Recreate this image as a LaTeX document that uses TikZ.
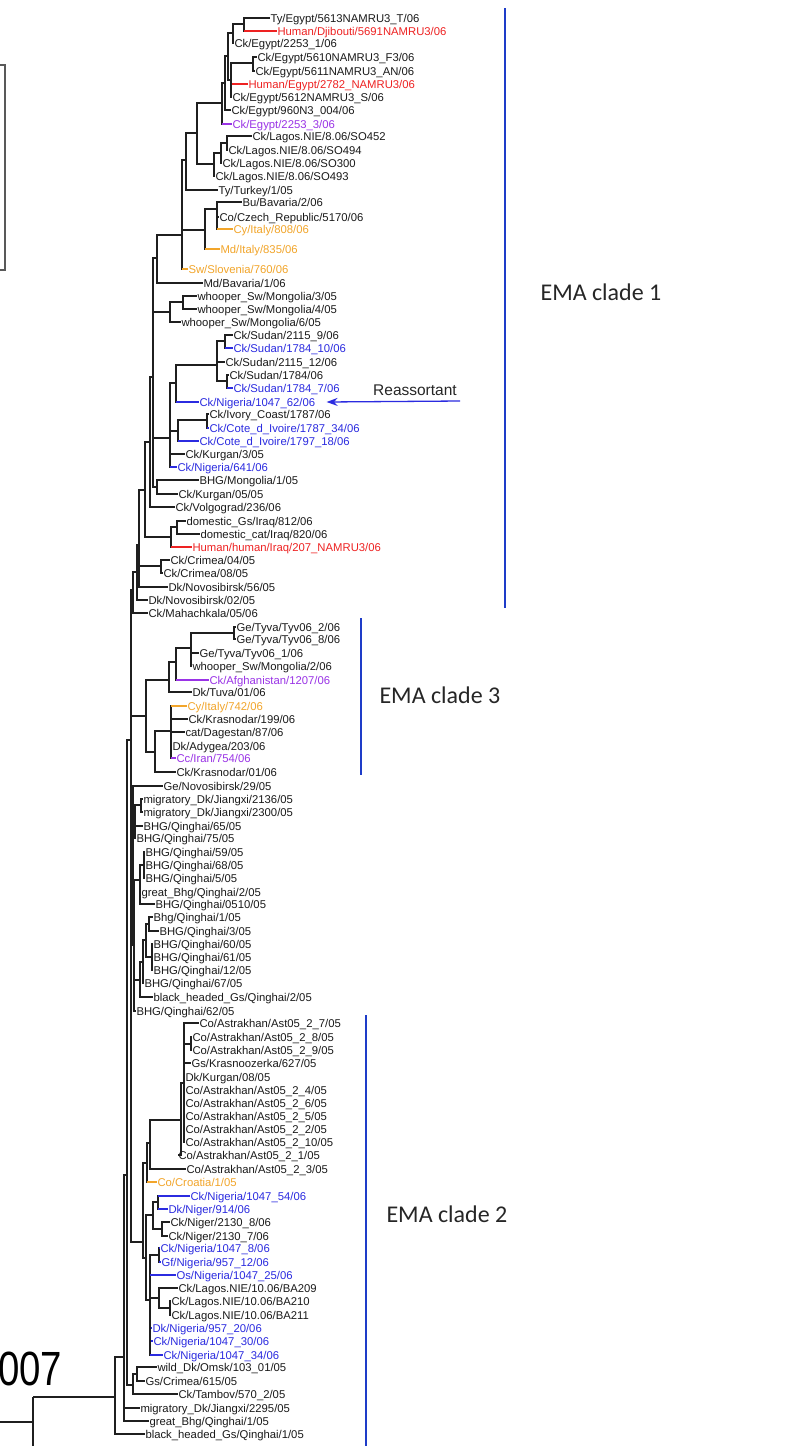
\documentclass[tikz,border=0pt]{standalone}
\usepackage{fontspec}
\setmainfont{Liberation Sans}
\newfontfamily\cladefont{Carlito}
\usetikzlibrary{arrows.meta}
\definecolor{tc}{HTML}{1A1A1A}
\definecolor{cr}{HTML}{EE2222}
\definecolor{cb}{HTML}{2B2BE0}
\definecolor{co}{HTML}{F2A52A}
\definecolor{cp}{HTML}{9A33E6}
\definecolor{cbar}{HTML}{1E3CC8}
\tikzset{
  tree/.style={line width=1.1pt, draw=black!88},
  lf/.style={anchor=west, inner sep=0.3pt, font=\fontsize{11.3}{12}\selectfont, text height=9pt, text depth=1pt},
  cladebar/.style={line width=1.3pt, draw=cbar},
  cladelab/.style={anchor=base west, font=\cladefont\fontsize{24}{26}\selectfont, text=black!85},
}
\newcommand\lv[5]{\node[lf,text=#4] (L#1) at (#2,#3) {#5};}
\newcommand\eL[3][]{\draw[tree] (#2) |- (L#3.west);%
  \ifx\relax#1\relax\else\draw[tree,draw=#1] (#2 |- L#3.west) -- (L#3.west);\fi}
\newcommand\eI[2]{\draw[tree] (#1) |- (#2);}
\begin{document}
\begin{tikzpicture}[x=1pt,y=-1pt]
\useasboundingbox (0,0) rectangle (787,1446);
\clip (0,0) rectangle (787,1446);
\fill[white] (0,0) rectangle (787,1446);
% leaves
\lv{1}{270}{18}{tc}{Ty/Egypt/5613NAMRU3\_T/06}
\lv{2}{277}{31}{cr}{Human/Djibouti/5691NAMRU3/06}
\lv{3}{234}{43}{tc}{Ck/Egypt/2253\_1/06}
\lv{4}{257}{57}{tc}{Ck/Egypt/5610NAMRU3\_F3/06}
\lv{5}{255}{71}{tc}{Ck/Egypt/5611NAMRU3\_AN/06}
\lv{6}{248}{84}{cr}{Human/Egypt/2782\_NAMRU3/06}
\lv{7}{232}{97}{tc}{Ck/Egypt/5612NAMRU3\_S/06}
\lv{8}{231}{110}{tc}{Ck/Egypt/960N3\_004/06}
\lv{9}{232}{124}{cp}{Ck/Egypt/2253\_3/06}
\lv{10}{252}{136}{tc}{Ck/Lagos.NIE/8.06/SO452}
\lv{11}{228}{150}{tc}{Ck/Lagos.NIE/8.06/SO494}
\lv{12}{222}{163}{tc}{Ck/Lagos.NIE/8.06/SO300}
\lv{13}{215}{176}{tc}{Ck/Lagos.NIE/8.06/SO493}
\lv{14}{218}{190}{tc}{Ty/Turkey/1/05}
\lv{15}{242}{202}{tc}{Bu/Bavaria/2/06}
\lv{16}{219}{217}{tc}{Co/Czech\_Republic/5170/06}
\lv{17}{233}{229}{co}{Cy/Italy/808/06}
\lv{18}{220}{249}{co}{Md/Italy/835/06}
\lv{19}{188}{269}{co}{Sw/Slovenia/760/06}
\lv{20}{203}{283}{tc}{Md/Bavaria/1/06}
\lv{21}{197}{296}{tc}{whooper\_Sw/Mongolia/3/05}
\lv{22}{197}{309}{tc}{whooper\_Sw/Mongolia/4/05}
\lv{23}{181}{322}{tc}{whooper\_Sw/Mongolia/6/05}
\lv{24}{233}{335}{tc}{Ck/Sudan/2115\_9/06}
\lv{25}{233}{348}{cb}{Ck/Sudan/1784\_10/06}
\lv{26}{225}{362}{tc}{Ck/Sudan/2115\_12/06}
\lv{27}{229}{375}{tc}{Ck/Sudan/1784/06}
\lv{28}{233}{388}{cb}{Ck/Sudan/1784\_7/06}
\lv{29}{199}{402}{cb}{Ck/Nigeria/1047\_62/06}
\lv{30}{209}{414}{tc}{Ck/Ivory\_Coast/1787/06}
\lv{31}{209}{428}{cb}{Ck/Cote\_d\_Ivoire/1787\_34/06}
\lv{32}{199}{441}{cb}{Ck/Cote\_d\_Ivoire/1797\_18/06}
\lv{33}{185}{454}{tc}{Ck/Kurgan/3/05}
\lv{34}{177}{467}{cb}{Ck/Nigeria/641/06}
\lv{35}{199}{480}{tc}{BHG/Mongolia/1/05}
\lv{36}{178}{494}{tc}{Ck/Kurgan/05/05}
\lv{37}{175}{507}{tc}{Ck/Volgograd/236/06}
\lv{38}{186}{521}{tc}{domestic\_Gs/Iraq/812/06}
\lv{39}{200}{534}{tc}{domestic\_cat/Iraq/820/06}
\lv{40}{192}{547}{cr}{Human/human/Iraq/207\_NAMRU3/06}
\lv{41}{170}{560}{tc}{Ck/Crimea/04/05}
\lv{42}{163}{573}{tc}{Ck/Crimea/08/05}
\lv{43}{168}{587}{tc}{Dk/Novosibirsk/56/05}
\lv{44}{148}{600}{tc}{Dk/Novosibirsk/02/05}
\lv{45}{148}{613}{tc}{Ck/Mahachkala/05/06}
\lv{46}{236}{627}{tc}{Ge/Tyva/Tyv06\_2/06}
\lv{47}{236}{639}{tc}{Ge/Tyva/Tyv06\_8/06}
\lv{48}{199}{653}{tc}{Ge/Tyva/Tyv06\_1/06}
\lv{49}{192}{666}{tc}{whooper\_Sw/Mongolia/2/06}
\lv{50}{209}{680}{cp}{Ck/Afghanistan/1207/06}
\lv{51}{192}{692}{tc}{Dk/Tuva/01/06}
\lv{52}{187}{706}{co}{Cy/Italy/742/06}
\lv{53}{188}{719}{tc}{Ck/Krasnodar/199/06}
\lv{54}{185}{732}{tc}{cat/Dagestan/87/06}
\lv{55}{172}{746}{tc}{Dk/Adygea/203/06}
\lv{56}{176}{758}{cp}{Cc/Iran/754/06}
\lv{57}{176}{772}{tc}{Ck/Krasnodar/01/06}
\lv{58}{163}{786}{tc}{Ge/Novosibirsk/29/05}
\lv{59}{143}{799}{tc}{migratory\_Dk/Jiangxi/2136/05}
\lv{60}{143}{812}{tc}{migratory\_Dk/Jiangxi/2300/05}
\lv{61}{143}{826}{tc}{BHG/Qinghai/65/05}
\lv{62}{136}{838}{tc}{BHG/Qinghai/75/05}
\lv{63}{145}{852}{tc}{BHG/Qinghai/59/05}
\lv{64}{145}{865}{tc}{BHG/Qinghai/68/05}
\lv{65}{145}{878}{tc}{BHG/Qinghai/5/05}
\lv{66}{141}{892}{tc}{great\_Bhg/Qinghai/2/05}
\lv{67}{155}{904}{tc}{BHG/Qinghai/0510/05}
\lv{68}{153}{917}{tc}{Bhg/Qinghai/1/05}
\lv{69}{159}{931}{tc}{BHG/Qinghai/3/05}
\lv{70}{153}{944}{tc}{BHG/Qinghai/60/05}
\lv{71}{153}{957}{tc}{BHG/Qinghai/61/05}
\lv{72}{153}{970}{tc}{BHG/Qinghai/12/05}
\lv{73}{144}{983}{tc}{BHG/Qinghai/67/05}
\lv{74}{153}{997}{tc}{black\_headed\_Gs/Qinghai/2/05}
\lv{75}{136}{1011}{tc}{BHG/Qinghai/62/05}
\lv{76}{199}{1023}{tc}{Co/Astrakhan/Ast05\_2\_7/05}
\lv{77}{192}{1037}{tc}{Co/Astrakhan/Ast05\_2\_8/05}
\lv{78}{192}{1050}{tc}{Co/Astrakhan/Ast05\_2\_9/05}
\lv{79}{191}{1063}{tc}{Gs/Krasnoozerka/627/05}
\lv{80}{185}{1077}{tc}{Dk/Kurgan/08/05}
\lv{81}{185}{1090}{tc}{Co/Astrakhan/Ast05\_2\_4/05}
\lv{82}{185}{1103}{tc}{Co/Astrakhan/Ast05\_2\_6/05}
\lv{83}{185}{1116}{tc}{Co/Astrakhan/Ast05\_2\_5/05}
\lv{84}{185}{1129}{tc}{Co/Astrakhan/Ast05\_2\_2/05}
\lv{85}{185}{1142}{tc}{Co/Astrakhan/Ast05\_2\_10/05}
\lv{86}{178}{1155}{tc}{Co/Astrakhan/Ast05\_2\_1/05}
\lv{87}{186}{1169}{tc}{Co/Astrakhan/Ast05\_2\_3/05}
\lv{88}{157}{1182}{co}{Co/Croatia/1/05}
\lv{89}{190}{1196}{cb}{Ck/Nigeria/1047\_54/06}
\lv{90}{168}{1209}{cb}{Dk/Niger/914/06}
\lv{91}{170}{1222}{tc}{Ck/Niger/2130\_8/06}
\lv{92}{168}{1236}{tc}{Ck/Niger/2130\_7/06}
\lv{93}{160}{1248}{cb}{Ck/Nigeria/1047\_8/06}
\lv{94}{161}{1262}{cb}{Gf/Nigeria/957\_12/06}
\lv{95}{176}{1275}{cb}{Os/Nigeria/1047\_25/06}
\lv{96}{178}{1288}{tc}{Ck/Lagos.NIE/10.06/BA209}
\lv{97}{171}{1301}{tc}{Ck/Lagos.NIE/10.06/BA210}
\lv{98}{171}{1315}{tc}{Ck/Lagos.NIE/10.06/BA211}
\lv{99}{152}{1328}{cb}{Dk/Nigeria/957\_20/06}
\lv{100}{153}{1341}{cb}{Ck/Nigeria/1047\_30/06}
\lv{101}{163}{1355}{cb}{Ck/Nigeria/1047\_34/06}
\lv{102}{157}{1367}{tc}{wild\_Dk/Omsk/103\_01/05}
\lv{103}{145}{1381}{tc}{Gs/Crimea/615/05}
\lv{104}{178}{1394}{tc}{Ck/Tambov/570\_2/05}
\lv{105}{140}{1408}{tc}{migratory\_Dk/Jiangxi/2295/05}
\lv{106}{149}{1421}{tc}{great\_Bhg/Qinghai/1/05}
\lv{107}{145}{1434}{tc}{black\_headed\_Gs/Qinghai/1/05}
% internal nodes
\coordinate (na) at (244,24);
\coordinate (nb) at (233,33);
\coordinate (nc) at (253,63);
\coordinate (nd) at (231,80);
\coordinate (ne) at (228,56);
\coordinate (nf) at (225,83);
\coordinate (ng) at (222,103);
\coordinate (nh) at (227,143);
\coordinate (ni) at (221,153);
\coordinate (nj) at (214,164);
\coordinate (nk) at (197,133);
\coordinate (nl) at (186,160);
\coordinate (nn) at (217,209);
\coordinate (no) at (205,230);
\coordinate (nm) at (182,235);
\coordinate (np) at (157,258);
\coordinate (nq) at (183,302);
\coordinate (nr) at (170,312);
\coordinate (ns1) at (225,341);
\coordinate (ns2) at (227,381);
\coordinate (ns) at (217,365);
\coordinate (nt) at (176,383);
\coordinate (nu1) at (207,420);
\coordinate (nu) at (178,431);
\coordinate (nv) at (170,438);
\coordinate (nx) at (157,487);
\coordinate (nB) at (153,377);
\coordinate (nC) at (150,442);
\coordinate (nD1) at (177,527);
\coordinate (nD) at (171,537);
\coordinate (nE) at (145,490);
\coordinate (nF1) at (161,566);
\coordinate (nI) at (139,545);
\coordinate (nI2) at (137,572);
\coordinate (nJ) at (133,590);
\coordinate (nK1) at (234,633);
\coordinate (nK) at (191,648);
\coordinate (nL) at (176,662);
\coordinate (nM) at (169,680);
\coordinate (nN) at (171,731);
\coordinate (nO) at (155,752);
\coordinate (nP) at (146,716);
\coordinate (q1) at (141,805);
\coordinate (q2) at (135,815);
\coordinate (q3) at (144,865);
\coordinate (q4) at (140,880);
\coordinate (q5) at (149,924);
\coordinate (q6) at (152,957);
\coordinate (q7) at (146,940);
\coordinate (q8) at (143,962);
\coordinate (q9) at (140,980);
\coordinate (q10) at (134,945);
\coordinate (q12) at (133,840);
\coordinate (a1) at (191,1044);
\coordinate (A) at (184,1083);
\coordinate (nA2) at (181,1120);
\coordinate (nA3) at (150,1143);
\coordinate (nA4) at (147,1163);
\coordinate (nN1) at (158,1202);
\coordinate (nN2) at (162,1229);
\coordinate (nN3) at (153,1215);
\coordinate (nN4) at (159,1255);
\coordinate (nN5) at (170,1308);
\coordinate (nN6) at (159,1298);
\coordinate (nN7) at (150,1300);
\coordinate (nN8) at (146,1258);
\coordinate (nC2) at (143,1242);
\coordinate (P1) at (131,740);
\coordinate (nT1) at (137,1374);
\coordinate (nT) at (133,1385);
\coordinate (P2) at (127,1175);
\coordinate (P3) at (124,1357);
\coordinate (R0) at (115,1397);
\coordinate (Rt) at (33,1397);
\coordinate (Rb) at (33,1450);
\coordinate (Rl) at (-5,1422);
% edges
\eL{na}{1} \eL[cr]{na}{2}
\eI{nb}{na} \eL{nb}{3}
\eL{nc}{4} \eL{nc}{5}
\eI{nd}{nc} \eL[cr]{nd}{6} \eL{nd}{7}
\eI{ne}{nb} \eI{ne}{nd}
\eI{nf}{ne} \eL{nf}{8}
\eI{ng}{nf} \eL[cp]{ng}{9}
\eL{nh}{10} \eL{nh}{11}
\eI{ni}{nh} \eL{ni}{12}
\eI{nj}{ni} \eL{nj}{13}
\eI{nk}{ng} \eI{nk}{nj}
\eI{nl}{nk} \eL{nl}{14}
\eL{nn}{15} \eL{nn}{16} \eL[co]{nn}{17}
\eI{no}{nn} \eL[co]{no}{18}
\eI{nm}{nl} \eI{nm}{no} \eL[co]{nm}{19}
\eI{np}{nm} \eL{np}{20}
\eL{nq}{21} \eL{nq}{22}
\eI{nr}{nq} \eL{nr}{23}
\eL{ns1}{24} \eL[cb]{ns1}{25}
\eL{ns2}{27} \eL[cb]{ns2}{28}
\eI{ns}{ns1} \eL{ns}{26} \eI{ns}{ns2}
\eI{nt}{ns} \eL[cb]{nt}{29}
\eL{nu1}{30} \eL[cb]{nu1}{31}
\eI{nu}{nu1} \eL[cb]{nu}{32}
\eI{nv}{nt} \eI{nv}{nu} \eL{nv}{33} \eL[cb]{nv}{34}
\eL{nx}{35} \eL{nx}{36}
\eI{nB}{np} \eI{nB}{nr} \eI{nB}{nv} \eI{nB}{nx}
\eI{nC}{nB} \eL{nC}{37}
\eL{nD1}{38} \eL{nD1}{39}
\eI{nD}{nD1} \eL[cr]{nD}{40}
\eI{nE}{nC} \eI{nE}{nD}
\eL{nF1}{41} \eL{nF1}{42}
\eI{nI}{nE} \eI{nI}{nF1} \eL{nI}{43}
\eI{nI2}{nI} \eL{nI2}{44}
\eI{nJ}{nI2} \eL{nJ}{45}
\eL{nK1}{46} \eL{nK1}{47}
\eI{nK}{nK1} \eL{nK}{48} \eL{nK}{49}
\eI{nL}{nK} \eL[cp]{nL}{50}
\eI{nM}{nL} \eL{nM}{51}
\eL[co]{nN}{52} \eL{nN}{53} \eL{nN}{54} \eL{nN}{55} \eL[cp]{nN}{56}
\eI{nO}{nN} \eL{nO}{57}
\eI{nP}{nM} \eI{nP}{nO}
\eL{q1}{59} \eL{q1}{60}
\eI{q2}{q1} \eL{q2}{61} \eL{q2}{62}
\eL{q3}{63} \eL{q3}{64} \eL{q3}{65}
\eI{q4}{q3} \eL{q4}{66} \eL{q4}{67}
\eL{q5}{68} \eL{q5}{69}
\eL{q6}{70} \eL{q6}{71} \eL{q6}{72}
\eI{q7}{q5} \eI{q7}{q6}
\eI{q8}{q7} \eL{q8}{73}
\eI{q9}{q8} \eL{q9}{74}
\eI{q10}{q4} \eI{q10}{q9} \eL{q10}{75}
\eL{q12}{58} \eI{q12}{q2} \eI{q12}{q10}
\eL{a1}{77} \eL{a1}{78}
\eL{A}{76} \eI{A}{a1} \eL{A}{79} \eL{A}{80} \eL{A}{81} \eL{A}{82} \eL{A}{83} \eL{A}{84} \eL{A}{85}
\eI{nA2}{A} \eL{nA2}{86}
\eI{nA3}{nA2} \eL{nA3}{87}
\eI{nA4}{nA3} \eL[co]{nA4}{88}
\eL[cb]{nN1}{89} \eL[cb]{nN1}{90}
\eL{nN2}{91} \eL{nN2}{92}
\eI{nN3}{nN1} \eI{nN3}{nN2}
\eL[cb]{nN4}{93} \eL[cb]{nN4}{94}
\eL{nN5}{97} \eL{nN5}{98}
\eL{nN6}{96} \eI{nN6}{nN5}
\eI{nN7}{nN4} \eL[cb]{nN7}{95} \eI{nN7}{nN6} \eL[cb]{nN7}{99} \eL[cb]{nN7}{100} \eL[cb]{nN7}{101}
\eI{nN8}{nN3} \eI{nN8}{nN7}
\eI{nC2}{nA4} \eI{nC2}{nN8}
\eI{P1}{nJ} \eI{P1}{nP} \eI{P1}{q12} \eI{P1}{nC2}
\eL{nT1}{102} \eL{nT1}{103}
\eI{nT}{nT1} \eL{nT}{104}
\eI{P2}{P1} \eI{P2}{nT}
\draw[tree, line width=2pt] (P3 |- P2) -- (P3 |- L106.west);
\eI{P3}{P2} \eL{P3}{105} \eL{P3}{106}
\eI{R0}{P3} \eL{R0}{107}
\draw[tree] (Rt) -- (R0);
\draw[tree] (Rt) -- (Rb);
\draw[tree] (Rl) -- (Rl -| Rt);
% clade bars and labels
\coordinate (c1t) at (505,8);   \coordinate (c1b) at (505,608);
\coordinate (c3t) at (361,618); \coordinate (c3b) at (361,775);
\coordinate (c2t) at (366,1015);\coordinate (c2b) at (366,1450);
\draw[cladebar] (c1t) -- (c1b);
\draw[cladebar] (c3t) -- (c3b);
\draw[cladebar] (c2t) -- (c2b);
\node[cladelab] (lab1) at (537,300) {EMA clade 1};
\node[cladelab] (lab3) at (376,703) {EMA clade 3};
\node[cladelab] (lab2) at (383,1222) {EMA clade 2};
% reassortant
\node[anchor=base west, inner sep=0pt, font=\fontsize{15.5}{17}\selectfont, text=black!85] (reas) at (373,395) {Reassortant};
\coordinate (rs) at (460,401);
\draw[line width=1.3pt, draw=cb, -{Stealth[length=11pt,width=8pt]}] (rs) -- ([xshift=11pt]L29.east);
% left fragments
\draw[line width=1.3pt, draw=black!65] (-3,65) -- (5,65) -- (5,270) -- (-3,270);
\node[anchor=base west, inner sep=0pt, font=\fontsize{48}{50}\selectfont, text=black] (yr) at (-2,1385) {\scalebox{0.8}[1]{007}};
\end{tikzpicture}
\end{document}
